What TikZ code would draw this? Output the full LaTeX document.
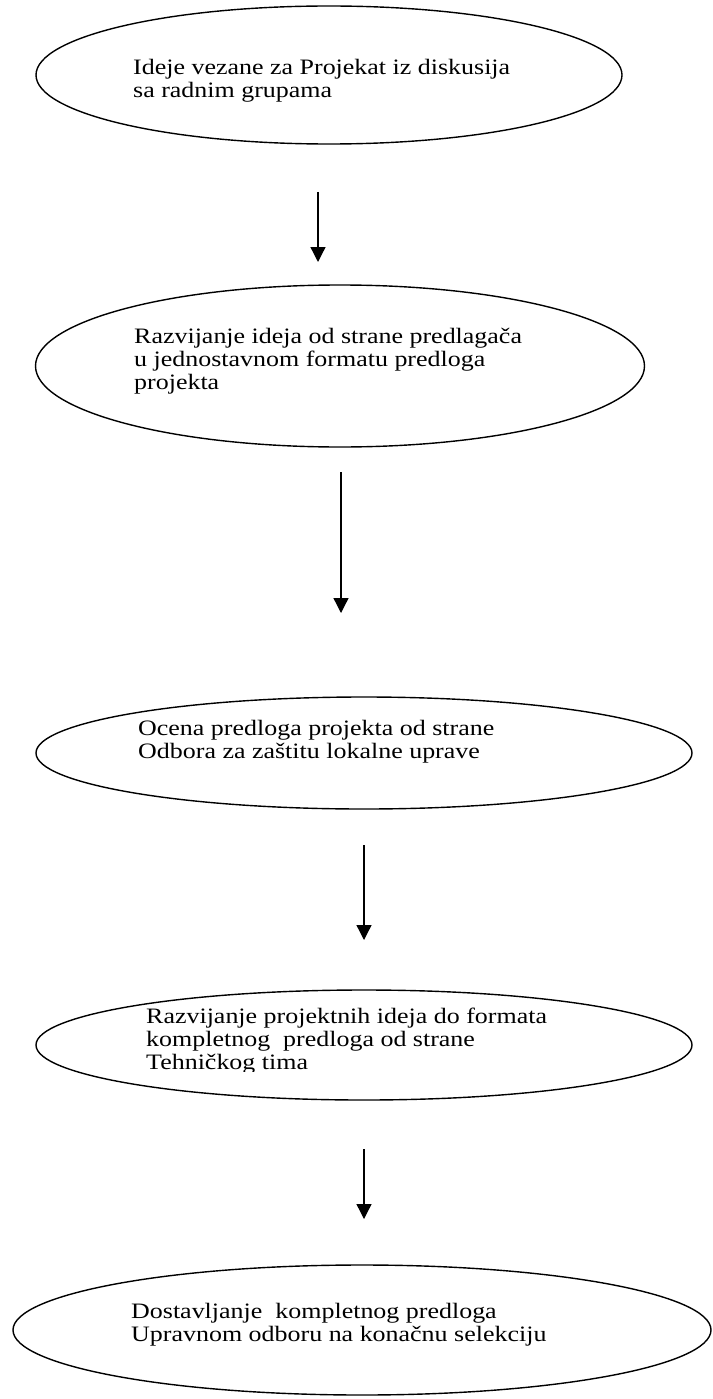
\documentclass[tikz,border=0pt]{standalone}
\usepackage{fontspec}
\setmainfont{Liberation Serif}[FakeStretch=1.18]
\usetikzlibrary{arrows.meta, shapes.geometric}

\begin{document}
\begin{tikzpicture}[
  x=1pt, y=-1pt,
  oval/.style={draw, ellipse, line width=1.4pt, inner sep=0pt},
  txt/.style={anchor=north west, inner sep=0pt, align=left, font=\fontsize{22}{23}\selectfont},
  arrow/.style={-{Triangle[width=15pt, length=15pt]}, line width=1.3pt}
]
\useasboundingbox (0,0) rectangle (712,1399);

% Nodes
\node[oval, minimum width=586pt, minimum height=138pt] (ideje) at (329,75) {};
\node[txt] (idejeTxt) at (133,58) {\strut Ideje vezane za Projekat iz diskusija\\ sa radnim grupama};

\node[oval, minimum width=609pt, minimum height=162pt] (razvijanje) at (340,366) {};
\node[txt] (razvijanjeTxt) at (134,327) {\strut Razvijanje ideja od strane predlagača\\ u jednostavnom formatu predloga\\ projekta};

\node[oval, minimum width=656pt, minimum height=112pt] (ocena) at (364,753) {};
\node[txt] (ocenaTxt) at (138,719) {\strut Ocena predloga projekta od strane\\ Odbora za zaštitu lokalne uprave};

\node[oval, minimum width=656pt, minimum height=110pt] (tehnicki) at (364,1045) {};
\begin{scope}
  \clip (140,990) rectangle (620,1071);
  \node[txt] (tehnickiTxt) at (146,1007) {\strut Razvijanje projektnih ideja do formata\\ kompletnog~ predloga od strane\\ Tehničkog tima};
\end{scope}

\node[oval, minimum width=698pt, minimum height=130pt] (dostava) at (362,1330) {};
\node[txt] (dostavaTxt) at (131,1302) {\strut Dostavljanje~ kompletnog predloga\\ Upravnom odboru na konačnu selekciju};

% Arrows
\coordinate (a1s) at (318,192);  \coordinate (a1e) at (318,262);
\coordinate (a2s) at (341,472);  \coordinate (a2e) at (341,613);
\coordinate (a3s) at (364,845);  \coordinate (a3e) at (364,940);
\coordinate (a4s) at (364,1149); \coordinate (a4e) at (364,1219);

\draw[arrow] (a1s) -- (a1e);
\draw[arrow] (a2s) -- (a2e);
\draw[arrow] (a3s) -- (a3e);
\draw[arrow] (a4s) -- (a4e);

\end{tikzpicture}
\end{document}
